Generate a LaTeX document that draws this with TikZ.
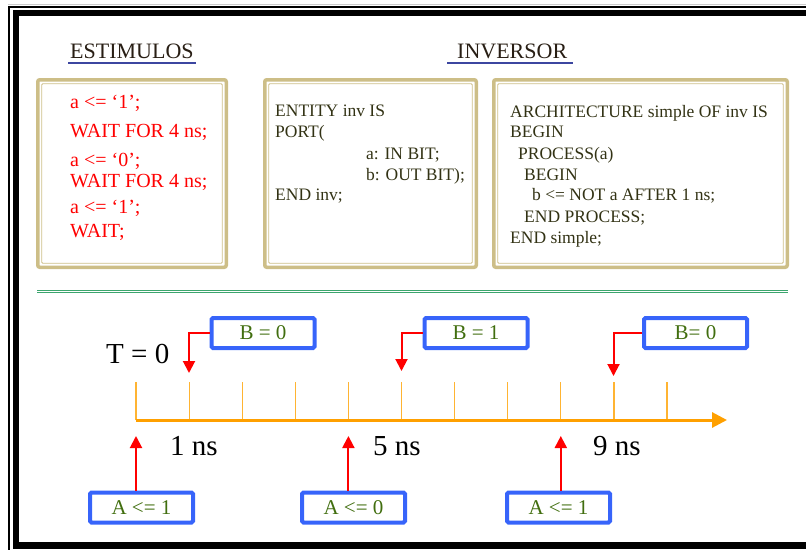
\documentclass[tikz,border=0pt]{standalone}
\usepackage{fontspec}
\setmainfont{Liberation Serif}
\usetikzlibrary{positioning,arrows.meta}

\definecolor{tan}{RGB}{205,190,135}
\definecolor{codeclr}{RGB}{50,50,20}
\definecolor{ttlclr}{RGB}{40,30,20}
\definecolor{ttlblue}{RGB}{60,70,160}
\definecolor{axisclr}{RGB}{255,160,0}
\definecolor{tickclr}{RGB}{255,180,50}
\definecolor{sigblue}{RGB}{55,100,250}
\definecolor{siggreen}{RGB}{65,110,15}
\definecolor{sepgreen}{RGB}{60,165,110}

\newcommand\codefnt{\fontsize{17.5}{21}\selectfont}
\newcommand\stimfnt{\fontsize{20}{24}\selectfont}
\newcommand\ttlfnt{\fontsize{22}{26}\selectfont}
\newcommand\lblfnt{\fontsize{21}{25}\selectfont}
\newcommand\bigfnt{\fontsize{29}{34}\selectfont}

\begin{document}
\begin{tikzpicture}[x=1pt, y=-1pt,
            box/.style={draw=tan, line width=3.5pt, rounded corners=2pt, inner sep=0pt, outer sep=0pt},
            sig/.style={draw=sigblue, line width=4pt, rounded corners=1.5pt, minimum width=103pt,
                        minimum height=30pt, inner sep=0pt, text=siggreen, font=\lblfnt},
            code/.style={anchor=base west, inner sep=0pt, text=codeclr, font=\codefnt},
            stim/.style={code, text=red, font=\stimfnt},
            ttl/.style={anchor=base west, inner sep=0pt, text=ttlclr, font=\ttlfnt},
            tk/.style={tickclr, line width=1.2pt},
            evt/.style={red, line width=2pt, -{Triangle[length=12pt,width=12pt]}}
        ]
        \useasboundingbox (0,0) rectangle (806,549);
        \clip (0,0) rectangle (806,549);

        % Frame
        \draw[gray!40, line width=1pt] (8,4.5) -- (806,4.5);
        \draw[line width=1.5pt] (9,7) rectangle (815,560);
        \draw[line width=6.5pt] (16,13) rectangle (812,545.5);

        % Titles
        \node[ttl] (ttlstim) at (70,58)  {ESTIMULOS};
        \node[ttl] (ttlinv)  at (457,58) {INVERSOR};
        \draw[ttlblue, line width=1.2pt] ([shift={(-2,5)}]ttlstim.base west) -- ([shift={(2,5)}]ttlstim.base east);
        \draw[ttlblue, line width=1.2pt] ([shift={(-10,5)}]ttlinv.base west) -- ([shift={(6,5)}]ttlinv.base east);

        % Code boxes
        \node[box, minimum width=188.5pt, minimum height=187.5pt] (stimbox) at (132,173.5)   {};
        \node[box, minimum width=211.5pt, minimum height=187.5pt] (entbox)  at (370.5,173.5) {};
        \node[box, minimum width=293.5pt, minimum height=187.5pt] (archbox) at (640.5,173.5) {};
        \foreach \b in {stimbox,entbox,archbox}
            \draw[tan, line width=0.8pt, rounded corners=1pt]
                ([shift={(4,4)}]\b.north west) rectangle ([shift={(-4,-4)}]\b.south east);

        % Stimuli
        \node[stim] (s1) at (70,108) {a <= ‘1’;};
        \node[stim] (s2) at (70,137) {WAIT FOR 4 ns;};
        \node[stim] (s3) at (70,166) {a <= ‘0’;};
        \node[stim] (s4) at (70,187) {WAIT FOR 4 ns;};
        \node[stim] (s5) at (70,213) {a <= ‘1’;};
        \node[stim] (s6) at (70,237) {WAIT;};

        % Entity
        \node[code] (e1) at (275,116) {ENTITY inv IS};
        \node[code] (e2) at (275,137) {PORT(};
        \node[code] (e3) at (366,159) {a: IN BIT;};
        \node[code] (e4) at (366,180) {b: OUT BIT);};
        \node[code] (e5) at (275,200) {END inv;};

        % Architecture
        \node[code] (r1) at (510,117) {ARCHITECTURE simple OF inv IS};
        \node[code] (r2) at (510,137) {BEGIN};
        \node[code] (r3) at (518,159) {PROCESS(a)};
        \node[code] (r4) at (524,180) {BEGIN};
        \node[code] (r5) at (532,200) {b <= NOT a AFTER 1 ns;};
        \node[code] (r6) at (524,222) {END PROCESS;};
        \node[code] (r7) at (510,243) {END simple;};

        % Separator
        \draw[sepgreen, line width=0.8pt] (37,290) -- (788,290);
        \draw[sepgreen, line width=0.8pt] (37,292.5) -- (788,292.5);

        % Time axis
        \foreach \i in {0,...,10}
            \coordinate (k\i) at (136+53.1*\i,420);
        \coordinate (tend) at (727,420);
        \foreach \i in {0,...,10}
            \draw[tk] (k\i) -- ++(0,-38);
        \draw[axisclr, line width=3pt, -{Triangle[length=15pt,width=15pt]}] (k0) -- (tend);

        \node[anchor=base west, inner sep=0pt, font=\bigfnt] (t0) at (106,363) {T = 0};
        \node[anchor=base west, inner sep=0pt, font=\bigfnt] (n1) at (170,455) {1 ns};
        \node[anchor=base west, inner sep=0pt, font=\bigfnt] (n5) at (373,455) {5 ns};
        \node[anchor=base west, inner sep=0pt, font=\bigfnt] (n9) at (593,455) {9 ns};

        % Output events
        \node[sig] (B1) at (263,333)   {B = 0};
        \node[sig] (B2) at (476,333)   {B = 1};
        \node[sig] (B3) at (695.5,333) {B= 0};
        \coordinate (b1) at (189,373);
        \coordinate (b2) at (401.5,371);
        \coordinate (b3) at (613.5,376);
        \draw[evt] (B1.west) -| (b1);
        \draw[evt] (B2.west) -| (b2);
        \draw[evt] (B3.west) -| (b3);

        % Input events
        \node[sig] (A1) at (141.5,507.5) {A <= 1};
        \node[sig] (A2) at (353.5,507.5) {A <= 0};
        \node[sig] (A3) at (558.5,507.5) {A <= 1};
        \coordinate (a1) at (136,436);
        \coordinate (a2) at (348.4,436);
        \coordinate (a3) at (560.8,436);
        \draw[evt] (a1 |- A1.north) -- (a1);
        \draw[evt] (a2 |- A2.north) -- (a2);
        \draw[evt] (a3 |- A3.north) -- (a3);
    \end{tikzpicture}
\end{document}
